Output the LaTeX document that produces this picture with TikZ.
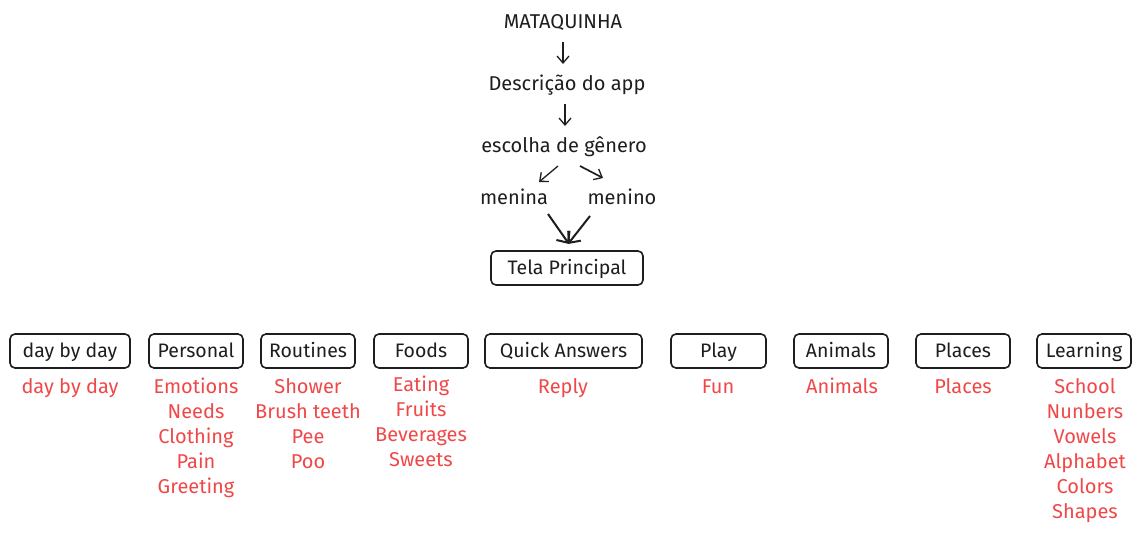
\documentclass[tikz,border=0pt]{standalone}
\usepackage{fontspec}
\setmainfont{Fira Sans}
\usetikzlibrary{arrows.meta}
\definecolor{redtxt}{RGB}{240,72,72}
\definecolor{ink}{RGB}{30,30,30}
\tikzset{
  lbl/.style={font=\fontsize{20}{24}\selectfont, text=ink, inner sep=0pt, text height=15pt, text depth=2pt},
  catbox/.style={draw=ink, line width=1.6pt, rounded corners=5pt, minimum height=34pt, inner sep=0pt, text height=15pt, text depth=2pt, font=\fontsize{19.5}{22}\selectfont, text=ink},
  sub/.style={font=\fontsize{20}{25}\selectfont, text=redtxt, align=center, inner sep=0pt, anchor=north},
  flow/.style={draw=ink, line width=1.3pt, -{Straight Barb[length=7pt,width=12pt,line width=1.3pt]}},
  bigflow/.style={draw=ink, line width=2pt, -{Straight Barb[length=9pt,width=16pt,line width=2pt]}}
}
\begin{document}
\begin{tikzpicture}[x=1pt,y=-1pt]
\useasboundingbox[fill=white] (0,0) rectangle (1141,559);
\node[lbl] (mata) at (563,22) {MATAQUINHA};
\node[lbl] (desc) at (567,84) {Descrição do app};
\node[lbl] (esc) at (564,146) {escolha de gênero};
\node[lbl] (menina) at (514,198) {menina};
\node[lbl] (menino) at (622,198) {menino};
\node[catbox, minimum width=152pt] (tela) at (567,268) {Tela Principal};
\coordinate (a1s) at (563,42); \coordinate (a1e) at (563,64);
\coordinate (a2s) at (565,104); \coordinate (a2e) at (565,126);
\coordinate (a3s) at (558,166); \coordinate (a3e) at (539,182);
\coordinate (a4s) at (580,166); \coordinate (a4e) at (603,178);
\coordinate (a5s) at (548,214); \coordinate (a5e) at (569,244);
\coordinate (a6s) at (590,216); \coordinate (a6e) at (568,244);
\draw[flow] (a1s) -- (a1e);
\draw[flow] (a2s) -- (a2e);
\draw[flow] (a3s) -- (a3e);
\draw[flow, line width=1.7pt] (a4s) -- (a4e);
\draw[bigflow] (a5s) -- (a5e);
\draw[bigflow] (a6s) -- (a6e);

\node[catbox, minimum width=120pt] (c1) at (70,351) {day by day};
\node[catbox, minimum width=94pt] (c2) at (196,351) {Personal};
\node[catbox, minimum width=94pt] (c3) at (308,351) {Routines};
\node[catbox, minimum width=94pt] (c4) at (421,351) {Foods};
\node[catbox, minimum width=157pt] (c5) at (563.5,351) {Quick Answers};
\node[catbox, minimum width=95pt] (c6) at (718.5,351) {Play};
\node[catbox, minimum width=94pt] (c7) at (841,351) {Animals};
\node[catbox, minimum width=94pt] (c8) at (963,351) {Places};
\node[catbox, minimum width=94pt] (c9) at (1084,351) {Learning};

\node[sub] (s1) at (70,375.5) {\strut day by day};
\node[sub] (s2) at (196,375.5) {\strut Emotions\\Needs\\Clothing\\Pain\\Greeting};
\node[sub] (s3) at (308,375.5) {\strut Shower\\Brush teeth\\Pee\\Poo};
\node[sub] (s4) at (421,373.5) {\strut Eating\\Fruits\\Beverages\\Sweets};
\node[sub] (s5) at (563,375.5) {\strut Reply};
\node[sub] (s6) at (718,375.5) {\strut Fun};
\node[sub] (s7) at (842,375.5) {\strut Animals};
\node[sub] (s8) at (963,375.5) {\strut Places};
\node[sub] (s9) at (1085,375.5) {\strut School\\Nunbers\\Vowels\\Alphabet\\Colors\\Shapes};
\end{tikzpicture}
\end{document}
